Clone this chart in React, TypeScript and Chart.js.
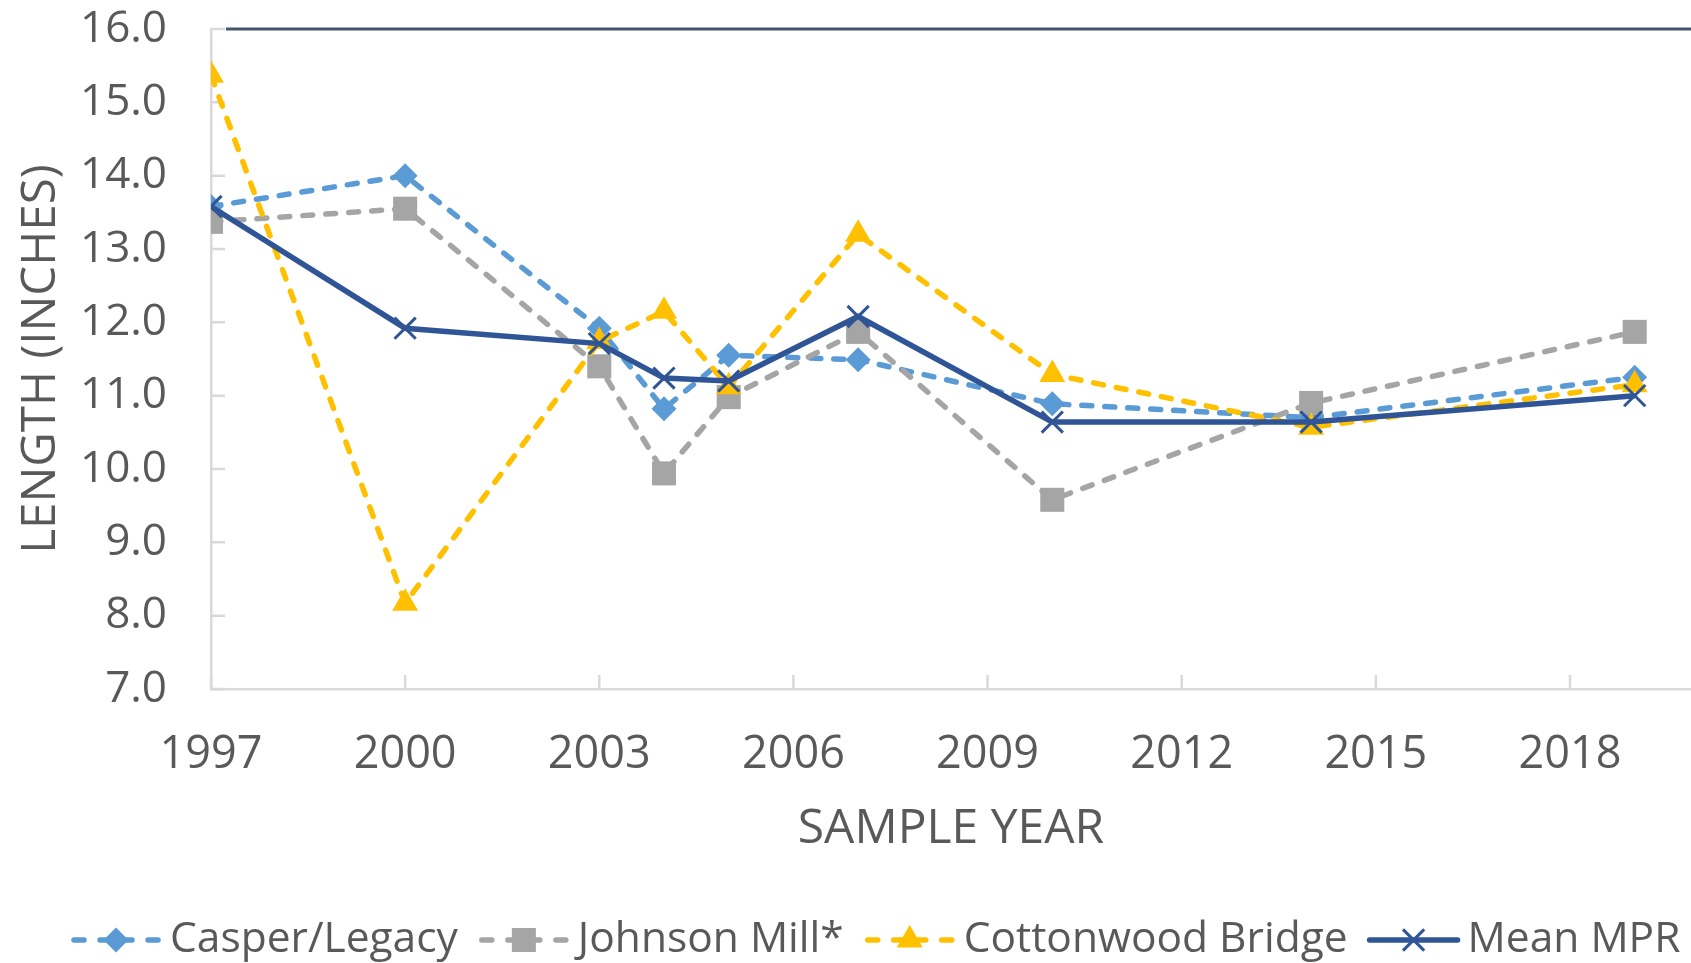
import { useEffect, useRef } from 'react';
import { Chart, registerables } from 'chart.js';

Chart.register(...registerables);

const years = [1997, 2000, 2003, 2004, 2005, 2007, 2010, 2014, 2019];
const casperLegacy = [13.58, 14.0, 11.92, 10.82, 11.55, 11.49, 10.89, 10.7, 11.25];
const johnsonMill = [13.37, 13.55, 11.4, 9.94, 10.98, 11.87, 9.58, 10.9, 11.87];
const cottonwoodBridge = [15.37, 8.17, 11.74, 12.15, 11.12, 13.2, 11.29, 10.57, 11.15];
const meanMPR = [13.58, 11.92, 11.71, 11.24, 11.2, 12.08, 10.64, 10.64, 11.0];
const seriesNames = ['Casper/Legacy', 'Johnson Mill*', 'Cottonwood Bridge', 'Mean MPR'];
const xTickYears = [1997, 2000, 2003, 2006, 2009, 2012, 2015, 2018];
const yTickValues = [7, 8, 9, 10, 11, 12, 13, 14, 15, 16];

const FONT = "'Open Sans', 'Noto Sans', sans-serif";
const TEXT = '#595959';
const AXIS = '#D9D9D9';

function drawMarker(ctx: CanvasRenderingContext2D, style: string, x: number, y: number, r: number, color: string) {
  ctx.save();
  ctx.fillStyle = color;
  ctx.strokeStyle = color;
  ctx.setLineDash([]);
  ctx.beginPath();
  if (style === 'rectRot') {
    ctx.moveTo(x - r, y);
    ctx.lineTo(x, y - r);
    ctx.lineTo(x + r, y);
    ctx.lineTo(x, y + r);
    ctx.closePath();
    ctx.fill();
  } else if (style === 'rect') {
    const s = r * Math.SQRT1_2;
    ctx.rect(x - s, y - s, 2 * s, 2 * s);
    ctx.fill();
  } else if (style === 'triangle') {
    ctx.moveTo(x, y - r);
    ctx.lineTo(x + r * Math.sin((2 * Math.PI) / 3), y + r / 2);
    ctx.lineTo(x - r * Math.sin((2 * Math.PI) / 3), y + r / 2);
    ctx.closePath();
    ctx.fill();
  } else {
    const d = r * Math.SQRT1_2;
    ctx.lineWidth = 3;
    ctx.moveTo(x - d, y - d);
    ctx.lineTo(x + d, y + d);
    ctx.moveTo(x + d, y - d);
    ctx.lineTo(x - d, y + d);
    ctx.stroke();
  }
  ctx.restore();
}

const decorPlugin = {
  id: 'decor',
  beforeDatasetsDraw(chart: any) {
    const { ctx, chartArea, scales } = chart;
    const xs = scales.x;
    const ys = scales.y;
    ctx.save();
    ctx.strokeStyle = AXIS;
    ctx.lineWidth = 2.5;
    ctx.beginPath();
    yTickValues.forEach((v) => {
      const py = ys.getPixelForValue(v);
      ctx.moveTo(chartArea.left, py);
      ctx.lineTo(chartArea.left + 14, py);
    });
    xTickYears.forEach((v) => {
      const px = xs.getPixelForValue(v);
      ctx.moveTo(px, chartArea.bottom);
      ctx.lineTo(px, chartArea.bottom - 14);
    });
    ctx.stroke();
    const top = ys.getPixelForValue(yTickValues[yTickValues.length - 1]);
    ctx.strokeStyle = '#44546A';
    ctx.lineWidth = 3;
    ctx.beginPath();
    ctx.moveTo(chartArea.left + 15, top);
    ctx.lineTo(chart.width, top);
    ctx.stroke();
    ctx.restore();
  },
  afterDraw(chart: any) {
    const { ctx } = chart;
    const y = 940;
    let x = 70;
    ctx.save();
    ctx.font = `42.5px ${FONT}`;
    ctx.textBaseline = 'middle';
    chart.data.datasets.forEach((ds: any) => {
      const lineLen = 92;
      ctx.save();
      ctx.strokeStyle = ds.borderColor;
      ctx.lineWidth = ds.borderWidth;
      ctx.lineCap = 'round';
      ctx.beginPath();
      if (ds.borderDash && ds.borderDash.length) {
        ctx.moveTo(x + 4, y);
        ctx.lineTo(x + 14, y);
        ctx.moveTo(x + lineLen - 14, y);
        ctx.lineTo(x + lineLen - 4, y);
        ctx.moveTo(x + 30, y);
        ctx.lineTo(x + lineLen - 30, y);
      } else {
        ctx.moveTo(x + 2, y);
        ctx.lineTo(x + lineLen - 2, y);
      }
      ctx.stroke();
      ctx.restore();
      drawMarker(ctx, ds.pointStyle, x + lineLen / 2, y, ds.pointRadius, ds.pointBorderColor || ds.backgroundColor);
      ctx.fillStyle = TEXT;
      ctx.fillText(ds.label, x + lineLen + 8, y);
      x += lineLen + 8 + ctx.measureText(ds.label).width + 20;
    });
    ctx.restore();
  },
};

export default function App() {
  const ref = useRef<HTMLCanvasElement>(null);
  useEffect(() => {
    document.body.style.margin = '0';
    document.body.style.overflow = 'hidden';
    const toPts = (vals: number[]) => years.map((x, i) => ({ x, y: vals[i] }));
    const dashed = { borderWidth: 5.5, borderDash: [10, 13], borderCapStyle: 'round', tension: 0, pointBorderWidth: 0 };
    const chart = new Chart(ref.current as HTMLCanvasElement, {
      type: 'line',
      data: {
        datasets: [
          { ...dashed, label: seriesNames[0], data: toPts(casperLegacy), borderColor: '#5B9BD5', backgroundColor: '#5B9BD5', pointBackgroundColor: '#5B9BD5', pointStyle: 'rectRot', pointRadius: 12.5, order: 4 },
          { ...dashed, label: seriesNames[1], data: toPts(johnsonMill), borderColor: '#A5A5A5', backgroundColor: '#A5A5A5', pointBackgroundColor: '#A5A5A5', pointStyle: 'rect', pointRadius: 17, order: 3 },
          { ...dashed, label: seriesNames[2], data: toPts(cottonwoodBridge), borderColor: '#FFC000', backgroundColor: '#FFC000', pointBackgroundColor: '#FFC000', pointStyle: 'triangle', pointRadius: 15, order: 2 },
          { label: seriesNames[3], data: toPts(meanMPR), borderColor: '#2F5597', backgroundColor: '#2F5597', pointBorderColor: '#2F5597', borderWidth: 5.5, tension: 0, pointStyle: 'crossRot', pointRadius: 15, pointBorderWidth: 3, order: 1 },
        ] as any,
      },
      options: {
        responsive: false,
        animation: false,
        devicePixelRatio: 1,
        layout: { autoPadding: false, padding: { top: 29, left: 13, right: 0, bottom: 110 } },
        plugins: { legend: { display: false }, tooltip: { enabled: false } },
        scales: {
          x: {
            type: 'linear',
            min: 1997,
            max: 2019.87,
            afterBuildTicks: (s: any) => {
              s.ticks = xTickYears.map((v) => ({ value: v }));
            },
            afterFit: (s: any) => {
              s.height = 164;
              s.paddingLeft = 0;
              s.paddingRight = 0;
            },
            grid: { display: true, drawOnChartArea: false, drawTicks: true, tickLength: 40, color: 'rgba(0,0,0,0)' },
            border: { display: true, color: AXIS, width: 2.5 },
            ticks: { autoSkip: false, maxRotation: 0, padding: 4, color: TEXT, font: { family: FONT, size: 45, lineHeight: 1 }, callback: (v: any) => String(v) },
            title: { display: true, text: 'SAMPLE YEAR', color: TEXT, font: { family: FONT, size: 48, lineHeight: 1 }, padding: 0 },
          },
          y: {
            min: yTickValues[0],
            max: yTickValues[yTickValues.length - 1],
            afterBuildTicks: (s: any) => {
              s.ticks = yTickValues.map((v) => ({ value: v }));
            },
            afterFit: (s: any) => {
              s.width = 198;
            },
            grid: { display: true, drawOnChartArea: false, drawTicks: true, tickLength: 40, color: 'rgba(0,0,0,0)' },
            border: { display: true, color: AXIS, width: 2.5 },
            ticks: { padding: 4, color: TEXT, font: { family: FONT, size: 44, lineHeight: 1 }, callback: (v: any) => Number(v).toFixed(1) },
            title: { display: true, text: 'LENGTH (INCHES)', color: TEXT, font: { family: FONT, size: 47.5, lineHeight: 1.2 }, padding: 0 },
          },
        },
      } as any,
      plugins: [decorPlugin],
    });
    return () => chart.destroy();
  }, []);
  return (
    <div style={{ width: 1691, height: 963 }}>
      <canvas ref={ref} width={1691} height={963} style={{ display: 'block' }} />
    </div>
  );
}
